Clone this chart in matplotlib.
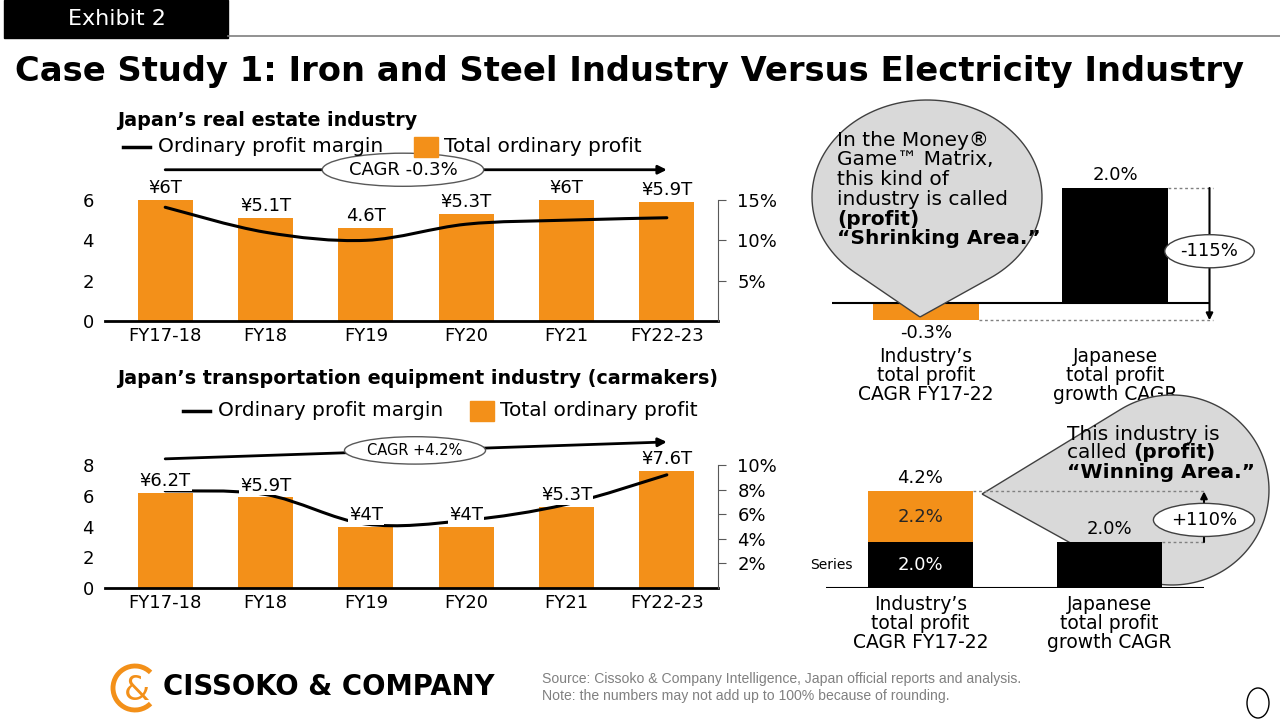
import numpy as np
import matplotlib
matplotlib.use('Agg')
import matplotlib.pyplot as plt
from matplotlib.path import Path
from matplotlib.patches import PathPatch, Rectangle, Ellipse, Arc
from matplotlib.lines import Line2D
from matplotlib.transforms import Affine2D

W, H, DPI = 1280, 720, 100
ORANGE = '#F39019'
GREY_FILL = '#D9D9D9'

# --- Data ---
years = ['FY17-18', 'FY18', 'FY19', 'FY20', 'FY21', 'FY22-23']

re_profit = [6.0, 5.1, 4.6, 5.3, 6.0, 5.9]          # trillion yen
re_labels = ['¥6T', '¥5.1T', '4.6T', '¥5.3T', '¥6T', '¥5.9T']
re_margin = [14.1, 11.0, 10.0, 12.0, 12.5, 12.8]    # %
re_cagr = 'CAGR -0.3%'

car_profit = [6.2, 5.9, 4.0, 4.0, 5.3, 7.6]
car_labels = ['¥6.2T', '¥5.9T', '¥4T', '¥4T', '¥5.3T', '¥7.6T']
car_margin = [7.9, 7.6, 5.2, 5.5, 6.8, 9.2]
car_cagr = 'CAGR +4.2%'

cmp_cats = ['Industry’s\ntotal profit\nCAGR FY17-22', 'Japanese\ntotal profit\ngrowth CAGR']
re_cmp = [-0.3, 2.0]
re_cmp_labels = ['-0.3%', '2.0%']
re_gap = '-115%'

car_base = [2.0, 2.0]
car_extra = [2.2, 0.0]
car_gap = '+110%'

fig = plt.figure(figsize=(W / DPI, H / DPI), dpi=DPI)
# pixel coordinates, origin top-left
px = Affine2D().scale(1 / DPI, -1 / DPI).translate(0, H / DPI) + fig.dpi_scale_trans


def rect_px(x0, y0, x1, y1):
    return [x0 / W, 1 - y1 / H, (x1 - x0) / W, (y1 - y0) / H]


def smooth_path(x, y):
    p = np.column_stack([x, y]).astype(float)
    ext = np.vstack([p[0], p, p[-1]])
    verts, codes = [p[0]], [Path.MOVETO]
    for i in range(len(p) - 1):
        p0, p1, p2, p3 = ext[i], ext[i + 1], ext[i + 2], ext[i + 3]
        verts += [p1 + (p2 - p0) / 6, p2 - (p3 - p1) / 6, p2]
        codes += [Path.CURVE4] * 3
    return Path(verts, codes)


def bubble_path(cx, cy, rx, ry, tx, ty):
    tu, tv = (tx - cx) / rx, (ty - cy) / ry
    phi = np.arctan2(tv, tu)
    a = np.arccos(1 / np.hypot(tu, tv))
    th = np.linspace(phi + a, phi - a + 2 * np.pi, 120)
    verts = [(tx, ty)] + list(zip(cx + rx * np.cos(th), cy + ry * np.sin(th))) + [(tx, ty)]
    return Path(verts)


def bar_line_panel(rect, profit, labels, margin, ymax, rmax, rticks, cagr, cagr_y, cagr_x, cagr_fs):
    ax = fig.add_axes(rect)
    ax.patch.set_visible(False)
    x = np.arange(len(years))
    ax.bar(x, profit, width=0.55, color=ORANGE, zorder=2)
    ax.set_xlim(-0.6, 5.51)
    ax.set_ylim(0, ymax)
    ax.set_yticks(np.arange(0, ymax + 1, 2))
    ax.set_xticks(x, years)
    ax.tick_params(axis='y', length=0, pad=8, labelsize=13)
    ax.tick_params(axis='x', length=0, pad=4, labelsize=13)
    for s in ['top', 'left', 'right']:
        ax.spines[s].set_visible(False)
    ax.spines['bottom'].set_linewidth(2)

    axr = ax.twinx()
    axr.set_ylim(0, rmax)
    axr.set_yticks(rticks, [f'{t}%' for t in rticks])
    for s in ['top', 'left', 'bottom']:
        axr.spines[s].set_visible(False)
    axr.spines['right'].set_color('#595959')
    axr.tick_params(axis='y', direction='out', length=6, pad=8, labelsize=13, color='#595959')
    axr.add_patch(PathPatch(smooth_path(x, margin), fill=False, lw=2.2, ec='black',
                            zorder=3, capstyle='round'))
    for xi, v, s in zip(x, profit, labels):
        axr.annotate(s, xy=(xi, v), xycoords=ax.transData, xytext=(0, 2),
                     textcoords='offset points', ha='center', va='bottom', fontsize=13,
                     zorder=4, bbox=dict(boxstyle='square,pad=0.05', fc='white', ec='none'))
    # CAGR arrow
    ax.annotate('', xy=(x[-1], cagr_y[1]), xytext=(x[0], cagr_y[0]), annotation_clip=False,
                arrowprops=dict(arrowstyle='-|>,head_length=0.5,head_width=0.25', lw=2,
                                color='black', shrinkA=0, shrinkB=0))
    ax.text(cagr_x, np.mean(cagr_y), cagr, ha='center', va='center', fontsize=cagr_fs,
            zorder=5, bbox=dict(boxstyle='ellipse,pad=0.15', fc='white', ec='#595959', lw=1))
    return ax, axr


# --- Left panels ---
bar_line_panel(rect_px(105, 200, 718, 321), re_profit, re_labels, re_margin,
               6, 15, [5, 10, 15], re_cagr, (7.5, 7.5), 2.37, 13)
bar_line_panel(rect_px(105, 465, 718, 588), car_profit, car_labels, car_margin,
               8, 10, [2, 4, 6, 8, 10], car_cagr, (8.4, 9.5), 2.49, 10.5)


def legend(x0, y, gap_sq):
    fig.add_artist(Line2D([x0, x0 + 27], [y, y], color='black', lw=2.5, transform=px))
    fig.text(x0 + 35, y, 'Ordinary profit margin', transform=px, va='center', fontsize=14.5)
    sq = x0 + gap_sq
    fig.add_artist(Rectangle((sq, y - 10), 24, 20, color=ORANGE, transform=px))
    fig.text(sq + 30, y, 'Total ordinary profit', transform=px, va='center', fontsize=14.5)


fig.text(117, 121, 'Japan’s real estate industry', transform=px, va='center',
         fontsize=13.8, weight='bold')
legend(123, 147, 291)
fig.text(117, 378, 'Japan’s transportation equipment industry (carmakers)', transform=px,
         va='center', fontsize=13.8, weight='bold')
legend(183, 411, 287)

# --- Right top: shrinking area ---
ax3 = fig.add_axes(rect_px(831.5, 159.25, 1209.5, 331.75))
ax3.patch.set_visible(False)
xc = np.arange(len(cmp_cats))
ax3.bar(xc, re_cmp, width=0.556, color=[ORANGE, 'black'], zorder=2)
ax3.axhline(0, color='black', lw=1.5, zorder=3)
ax3.set_xlim(-0.5, 1.5)
ax3.set_ylim(-0.5, 2.5)
ax3.set_yticks([])
ax3.set_xticks(xc, cmp_cats)
ax3.tick_params(axis='x', length=0, pad=11, labelsize=13.5)
for lbl in ax3.get_xticklabels():
    lbl.set_linespacing(1.0)
for s in ax3.spines.values():
    s.set_visible(False)
for xi, v, s in zip(xc, re_cmp, re_cmp_labels):
    ax3.annotate(s, xy=(xi, v), xytext=(0, 3 if v > 0 else -3), textcoords='offset points',
                 ha='center', va='bottom' if v > 0 else 'top', fontsize=13)
for v, x0 in [(re_cmp[1], 1.278), (re_cmp[0], 0.278)]:
    ax3.plot([x0, 1.52], [v, v], ls=(0, (2, 2)), color='#808080', lw=1, clip_on=False, zorder=3)
ax3.annotate('', xy=(1.5, re_cmp[0]), xytext=(1.5, re_cmp[1]), annotation_clip=False,
             arrowprops=dict(arrowstyle='-|>,head_length=0.4,head_width=0.2', lw=1.5,
                             color='black', shrinkA=0, shrinkB=0))
ax3.text(1.5, 0.9, re_gap, ha='center', va='center', fontsize=13, zorder=5,
         bbox=dict(boxstyle='ellipse,pad=0.15', fc='white', ec='#404040', lw=1))
ax3.add_patch(PathPatch(bubble_path(927, 197, 115, 97, 920, 317), fc=GREY_FILL,
                        ec='#404040', lw=1, transform=px, clip_on=False, zorder=6))
bubble1 = [('In the Money®', 'normal'), ('Game™ Matrix,', 'normal'),
           ('this kind of', 'normal'), ('industry is called', 'normal'),
           ('(profit)', 'bold'), ('“Shrinking Area.”', 'bold')]
for i, (s, w) in enumerate(bubble1):
    ax3.text(837, 140 + 19.8 * i, s, transform=px, va='center', ha='left', fontsize=14.5,
             weight=w, zorder=7, clip_on=False)

# --- Right bottom: winning area ---
ax4 = fig.add_axes(rect_px(826, 473, 1204, 588))
ax4.patch.set_visible(False)
ax4.bar(xc, car_base, width=0.556, color='black', zorder=2)
ax4.bar(xc, car_extra, bottom=car_base, width=0.556, color=ORANGE, zorder=2)
ax4.axhline(0, color='black', lw=1.5, zorder=3)
ax4.set_xlim(-0.5, 1.5)
ax4.set_ylim(0, 5)
ax4.set_yticks([])
ax4.set_xticks(xc, cmp_cats)
ax4.tick_params(axis='x', length=0, pad=5, labelsize=13.5)
for lbl in ax4.get_xticklabels():
    lbl.set_linespacing(1.0)
for s in ax4.spines.values():
    s.set_visible(False)
tot = np.add(car_base, car_extra)
ax4.text(0, car_base[0] / 2, f'{car_base[0]:.1f}%', ha='center', va='center', color='white',
         fontsize=13, zorder=4)
ax4.text(0, car_base[0] + car_extra[0] / 2, f'{car_extra[0]:.1f}%', ha='center', va='center',
         color='#262626', fontsize=13, zorder=4)
ax4.annotate(f'{tot[0]:.1f}%', xy=(0, tot[0]), xytext=(0, 3), textcoords='offset points',
             ha='center', va='bottom', fontsize=13)
ax4.annotate(f'{tot[1]:.1f}%', xy=(1, tot[1]), xytext=(0, 3), textcoords='offset points',
             ha='center', va='bottom', fontsize=13, zorder=4)
ax4.text(-0.585, 1.0, 'Series', ha='left', va='center', fontsize=10, clip_on=False)
for v, x0 in [(tot[0], 0.278), (tot[1], 1.278)]:
    ax4.plot([x0, 1.51], [v, v], ls=(0, (2, 2)), color='#808080', lw=1, clip_on=False, zorder=3)
ax4.annotate('', xy=(1.5, tot[0]), xytext=(1.5, tot[1]), annotation_clip=False,
             arrowprops=dict(arrowstyle='-|>,head_length=0.4,head_width=0.2', lw=1.5,
                             color='black', shrinkA=0, shrinkB=0), zorder=3)
ax4.text(1.5, 2.96, car_gap, ha='center', va='center', fontsize=13, zorder=5,
         bbox=dict(boxstyle='ellipse,pad=0.15', fc='white', ec='#404040', lw=1))
ax4.add_patch(PathPatch(bubble_path(1172, 490, 97, 95, 982, 494), fc=GREY_FILL,
                        ec='#404040', lw=1, transform=px, clip_on=False, zorder=1))
ax4.text(1067, 434, 'This industry is', transform=px, va='center', fontsize=14.5,
         clip_on=False, zorder=6)
t2 = ax4.text(1067, 453, 'called ', transform=px, va='center', fontsize=14.5,
              clip_on=False, zorder=6)
ax4.annotate('(profit)', xy=(1, 0.5), xycoords=t2, va='center', ha='left', fontsize=14.5,
             weight='bold', zorder=6)
ax4.text(1067, 473, '“Winning Area.”', transform=px, va='center', fontsize=14.5,
         weight='bold', clip_on=False, zorder=6)

# --- Header ---
fig.add_artist(Rectangle((4, 0), 224, 38, color='black', transform=px))
fig.text(117, 19, 'Exhibit 2', transform=px, color='white', ha='center', va='center',
         fontsize=16)
fig.add_artist(Line2D([228, 1280], [36, 36], color='#7f7f7f', lw=1.2, transform=px))
fig.text(15, 72, 'Case Study 1: Iron and Steel Industry Versus Electricity Industry',
         transform=px, va='center', fontsize=24.3, weight='bold')

# --- Footer ---
fig.add_artist(Arc((135, 688), 44, 44, theta1=45, theta2=315, color=ORANGE, lw=3.5,
                   transform=px))
fig.text(137, 690, '&', transform=px, ha='center', va='center', color=ORANGE, fontsize=24)
fig.text(163, 687, 'CISSOKO & COMPANY', transform=px, va='center', fontsize=19.8, weight='bold')
fig.text(542, 679, 'Source: Cissoko & Company Intelligence, Japan official reports and analysis.',
         transform=px, va='center', fontsize=10.1, color='#808080',
         family=['Liberation Sans Narrow', 'Liberation Sans'])
fig.text(542, 696, 'Note: the numbers may not add up to 100% because of rounding.',
         transform=px, va='center', fontsize=10.1, color='#808080',
         family=['Liberation Sans Narrow', 'Liberation Sans'])
fig.add_artist(Ellipse((1258, 703), 22, 30, fc='none', ec='black', lw=1, transform=px))

fig.savefig('out.png', dpi=DPI)
